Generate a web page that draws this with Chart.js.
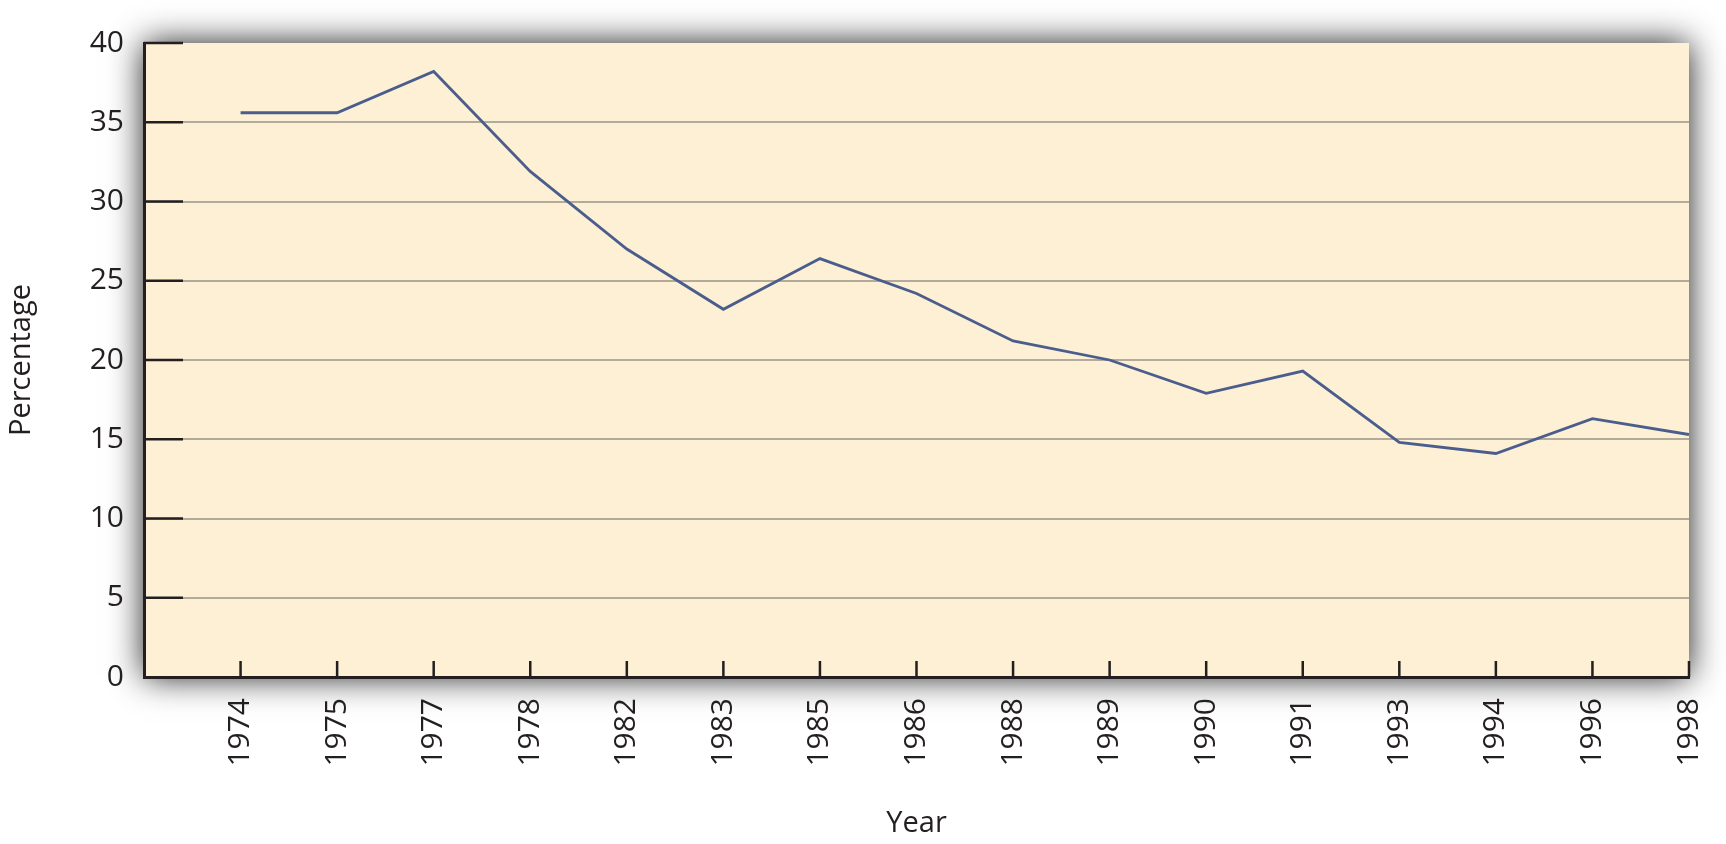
<!DOCTYPE html>
<html>
<head>
<meta charset="utf-8">
<script src="https://cdn.jsdelivr.net/npm/chart.js@4.4.1/dist/chart.umd.min.js"></script>
<style>
  html, body { margin: 0; padding: 0; background: #fff; }
  #wrap { width: 1726px; height: 844px; position: relative; }
</style>
</head>
<body>
<div id="wrap"><canvas id="chart"></canvas></div>
<script>
// data
const years = ['1974', '1975', '1977', '1978', '1982', '1983', '1985', '1986',
               '1988', '1989', '1990', '1991', '1993', '1994', '1996', '1998'];
const percentages = [35.6, 35.6, 38.2, 31.9, 27.0, 23.2, 26.4, 24.2,
                     21.2, 20.0, 17.9, 19.3, 14.8, 14.1, 16.3, 15.3];
const yTicks = [0, 5, 10, 15, 20, 25, 30, 35, 40];

const FONT = "'Open Sans', sans-serif";
const INK = '#231f20';

// cream panel with a soft shadow behind it
const panelPlugin = {
    id: 'panel',
    beforeDraw(chart) {
        const { ctx, chartArea: a } = chart;
        ctx.save();
        ctx.shadowColor = 'rgba(0, 0, 0, 0.9)';
        ctx.shadowBlur = 32;
        ctx.fillStyle = '#fdf0d5';
        ctx.fillRect(a.left, a.top, a.right - a.left, a.bottom - a.top);
        ctx.restore();
    }
};

// short tick marks that point into the plot
const innerTicks = {
    id: 'innerTicks',
    afterDraw(chart) {
        const { ctx, chartArea: a, scales } = chart;
        ctx.save();
        ctx.strokeStyle = INK;
        ctx.lineWidth = 2.5;
        ctx.beginPath();
        yTicks.forEach(v => {
            if (v === 0) return;
            const y = scales.y.getPixelForValue(v);
            ctx.moveTo(a.left, y);
            ctx.lineTo(a.left + 39, y);
        });
        years.forEach((yr, i) => {
            const x = scales.x.getPixelForValue(i + 1);
            ctx.moveTo(x, a.bottom);
            ctx.lineTo(x, a.bottom - 16);
        });
        ctx.stroke();
        ctx.restore();
    }
};

new Chart(document.getElementById('chart'), {
    type: 'line',
    data: {
        datasets: [{
            data: percentages.map((v, i) => ({ x: i + 1, y: v })),
            borderColor: '#4a5d8c',
            borderWidth: 2.8,
            pointRadius: 0,
            tension: 0,
            fill: false
        }]
    },
    options: {
        responsive: true,
        maintainAspectRatio: false,
        animation: false,
        layout: { padding: { top: 43, right: 37, left: 0, bottom: 0 } },
        plugins: { legend: { display: false }, tooltip: { enabled: false } },
        scales: {
            x: {
                type: 'linear',
                min: 0,
                max: years.length,
                afterFit: s => { s.height = 167; s.paddingLeft = 0; s.paddingRight = 0; },
                afterBuildTicks: s => { s.ticks = years.map((y, i) => ({ value: i + 1 })); },
                grid: { display: false, drawTicks: false },
                border: { display: true, color: INK, width: 3 },
                ticks: {
                    autoSkip: false,
                    minRotation: 90,
                    maxRotation: 90,
                    padding: 21,
                    color: INK,
                    font: { family: FONT, size: 30 },
                    callback: v => years[v - 1] || ''
                },
                title: {
                    display: true,
                    text: 'Year',
                    color: INK,
                    font: { family: FONT, size: 29 },
                    padding: { top: 0, bottom: 3 }
                }
            },
            y: {
                min: 0,
                max: 40,
                afterFit: s => { s.width = 144; s.paddingTop = 0; s.paddingBottom = 0; },
                afterBuildTicks: s => { s.ticks = yTicks.map(v => ({ value: v })); },
                grid: {
                    drawTicks: false,
                    lineWidth: 2,
                    color: c => (c.tick.value === 0 || c.tick.value === 40) ? 'rgba(0,0,0,0)' : '#b2aa9a'
                },
                border: { display: true, color: INK, width: 3 },
                ticks: {
                    padding: 20,
                    color: INK,
                    font: { family: FONT, size: 30 }
                },
                title: {
                    display: true,
                    text: 'Percentage',
                    color: INK,
                    font: { family: FONT, size: 29 },
                    padding: { top: 4, bottom: 0 }
                }
            }
        }
    },
    plugins: [panelPlugin, innerTicks]
});
</script>
</body>
</html>
